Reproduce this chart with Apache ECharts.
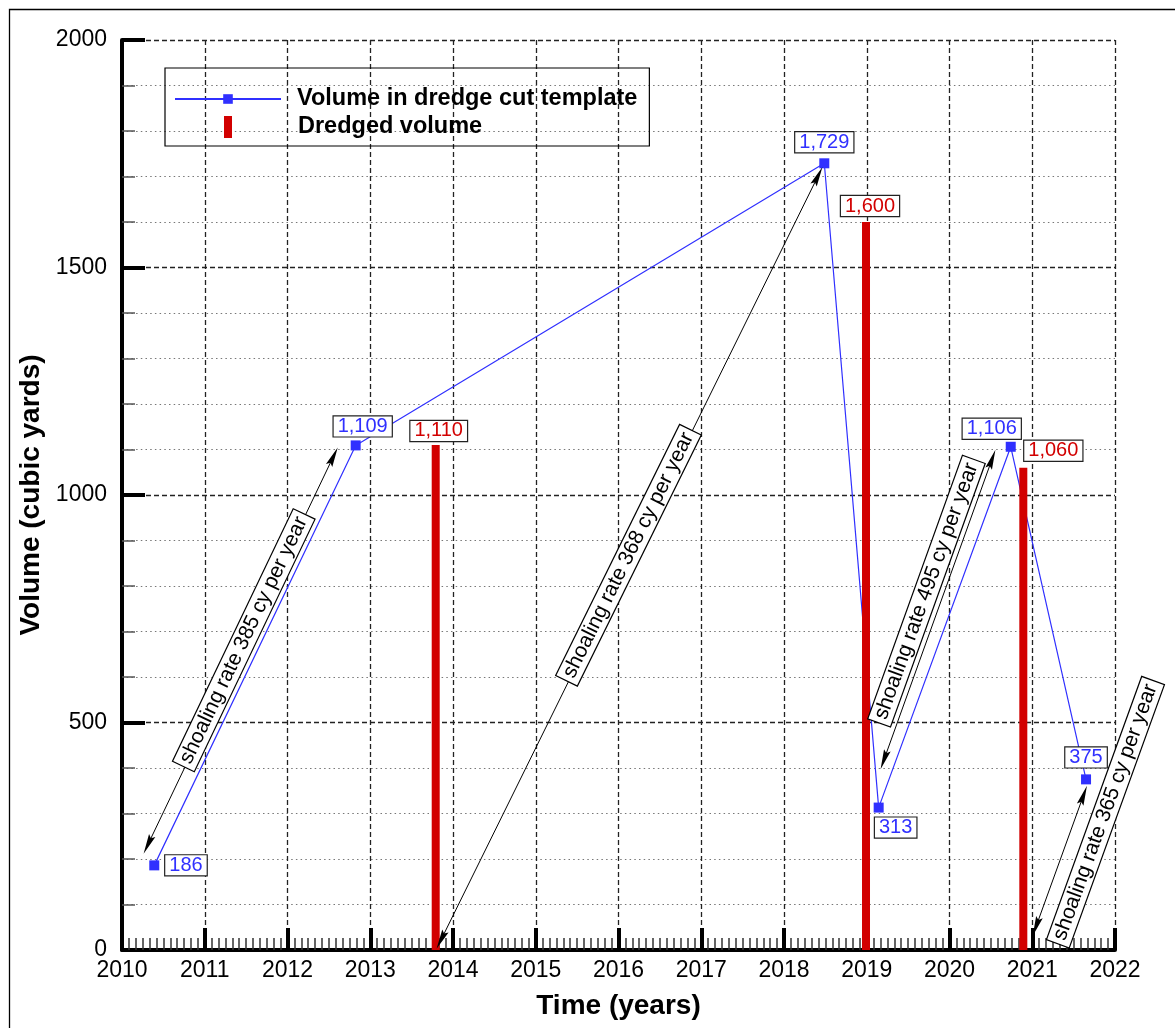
<!DOCTYPE html>
<html><head><meta charset="utf-8">
<script src="https://cdn.jsdelivr.net/npm/echarts@6/dist/echarts.min.js"></script>
<style>html,body{margin:0;padding:0;background:#fff}#c{width:1175px;height:1028px}</style>
</head><body><div id="c"></div>
<script>
// ---- data ----
const lineYears  = [2010.39, 2012.824, 2018.487, 2019.144, 2020.74, 2021.65];
const lineValues = [186, 1109, 1729, 313, 1106, 375];
const barYears   = [2013.791, 2018.991, 2020.892];
const barValues  = [1110, 1600, 1060];
const xRange = [2010, 2022];
const yRange = [0, 2000];
// annotation arrows (data space)
const arrowFrom = [[2010.313, 231.6], [2013.855, 22.2], [2019.208, 418], [2021.046, 51.6]];
const arrowTo   = [[2012.555, 1084.8], [2018.411, 1700.9], [2020.514, 1078.7], [2021.62, 340.2]];
const arrowText = ['shoaling rate 385 cy per year', 'shoaling rate 368 cy per year',
                   'shoaling rate 495 cy per year', 'shoaling rate 365 cy per year'];
const arrowTextAt = [[2011.466, 681.3], [2016.115, 868.1], [2019.716, 789], [2021.879, 303.3]];

// ---- label placement (styling) ----
const lineLabelPos = ['right', 'top', 'top', 'bottom', 'top', 'top'];
const lineLabelOffset = [[0, 0], [7, 0], [0, 0], [17, 0], [-19, 0], [0, 0]];
const lineLabelDist = [6, 4, 6, 5, 3, 7];
const barLabelOffset = [[3, 0], [4, 0], [30, 0]];
const barLabelDist = [4, 6, 7];

const FONT = 'Liberation Sans, Arial, sans-serif';
const BLUE = '#3030ff';
const RED = '#d20000';
const ARROW_HEAD = 'path://M3.5,0L7,20L3.5,17L0,20Z';
const fmt = v => Number(v).toLocaleString('en-US');
const boxLabel = {
  show: true, fontSize: 20, fontFamily: FONT, backgroundColor: '#fff',
  borderColor: '#222', borderWidth: 1.2, padding: [0, 4], lineHeight: 20
};

const lineData = lineYears.map((x, i) => ({
  value: [x, lineValues[i]],
  label: { position: lineLabelPos[i], offset: lineLabelOffset[i], distance: lineLabelDist[i] }
}));
const barData = barYears.map((x, i) => ({
  value: [x, barValues[i]],
  label: { offset: barLabelOffset[i], distance: barLabelDist[i] }
}));

const arrowLines = arrowFrom.map((f, i) => [{ coord: f }, { coord: arrowTo[i] }]);
const labelLines = arrowTextAt.map((c, i) => {
  const dx = (arrowTo[i][0] - arrowFrom[i][0]) * 0.03;
  const dy = (arrowTo[i][1] - arrowFrom[i][1]) * 0.03;
  return [
    { coord: [c[0] - dx, c[1] - dy], symbol: 'none',
      lineStyle: { color: 'rgba(0,0,0,0)', width: 0 },
      label: {
        show: true, position: 'middle', formatter: arrowText[i], distance: -12,
        fontSize: 21, fontFamily: FONT, color: '#000',
        backgroundColor: '#fff', borderColor: '#000', borderWidth: 1.2, padding: [1, 4]
      } },
    { coord: [c[0] + dx, c[1] + dy], symbol: 'none' }
  ];
});

const legendText = { fontSize: 23.5, fontWeight: 'bold', color: '#000', lineHeight: 24, fontFamily: FONT };

const chart = echarts.init(document.getElementById('c'), null, { renderer: 'canvas' });
chart.setOption({
  animation: false,
  backgroundColor: '#fff',
  textStyle: { fontFamily: FONT },
  grid: { left: 122, right: 60, top: 40, bottom: 78, containLabel: false, outerBoundsMode: 'none' },
  graphic: [{
    type: 'rect', left: 7, top: 7, silent: true,
    shape: { width: 1300, height: 1200 },
    style: { fill: null, stroke: '#000', lineWidth: 1.3 }
  }],
  legend: [{
    left: 165, top: 68, orient: 'vertical', selectedMode: false,
    borderColor: '#000', borderWidth: 1.2, padding: [19, 12, 35, 9],
    itemWidth: 106, itemHeight: 12,
    textStyle: Object.assign({ padding: [0, 0, 0, 11] }, legendText),
    data: [{ name: 'Volume in dredge cut template' }]
  }, {
    left: 224, top: 115, orient: 'vertical', selectedMode: false, padding: 0,
    itemWidth: 8, itemHeight: 22,
    textStyle: Object.assign({ padding: [0, 0, 0, 61] }, legendText),
    data: [{ name: 'Dredged volume', icon: 'rect' }]
  }],
  xAxis: {
    type: 'value', min: xRange[0], max: xRange[1], interval: 1,
    name: 'Time (years)', nameLocation: 'middle', nameGap: 42,
    nameTextStyle: { fontSize: 28, fontWeight: 'bold', color: '#000', fontFamily: FONT },
    axisLine: { show: true, onZero: false, lineStyle: { color: '#000', width: 4 } },
    axisTick: { show: true, inside: true, length: 22, lineStyle: { color: '#000', width: 4 } },
    minorTick: { show: true, splitNumber: 12, length: 12, lineStyle: { color: '#333', width: 1.5 } },
    axisLabel: { formatter: v => String(v), fontSize: 23, color: '#000', margin: 9, fontFamily: FONT },
    splitLine: { show: true, lineStyle: { color: '#222', width: 1.3, type: [5, 3] } },
    minorSplitLine: { show: false }
  },
  yAxis: {
    type: 'value', min: yRange[0], max: yRange[1], interval: 500,
    name: 'Volume (cubic yards)', nameLocation: 'middle', nameGap: 68,
    nameTextStyle: { fontSize: 28, fontWeight: 'bold', color: '#000', fontFamily: FONT },
    axisLine: { show: true, onZero: false, lineStyle: { color: '#000', width: 4 } },
    axisTick: { show: true, inside: true, length: 23, lineStyle: { color: '#000', width: 4 } },
    minorTick: { show: true, splitNumber: 5, length: 13, lineStyle: { color: '#555', width: 1.5 } },
    axisLabel: { formatter: v => String(v), fontSize: 23, color: '#000', margin: 15, fontFamily: FONT },
    splitLine: { show: true, lineStyle: { color: '#222', width: 1.3, type: [5, 3] } },
    minorSplitLine: { show: true, lineStyle: { color: '#777', width: 1, type: [1.5, 3.2] } }
  },
  series: [{
    type: 'line', name: 'Volume in dredge cut template', data: lineData,
    symbol: 'rect', symbolSize: 10, z: 2,
    lineStyle: { color: BLUE, width: 1.2 },
    itemStyle: { color: BLUE },
    label: Object.assign({}, boxLabel, { color: BLUE, formatter: p => fmt(p.value[1]) }),
    markLine: {
      silent: true, animation: false,
      symbol: [ARROW_HEAD, ARROW_HEAD], symbolSize: 20, symbolKeepAspect: true,
      lineStyle: { color: '#000', width: 1, type: 'solid' },
      itemStyle: { color: '#000' },
      label: { show: false },
      emphasis: { disabled: true },
      data: arrowLines.concat(labelLines)
    }
  }, {
    type: 'bar', name: 'Dredged volume', data: barData, barWidth: 8, z: 3,
    itemStyle: { color: RED },
    label: Object.assign({}, boxLabel, { position: 'top', color: RED, formatter: p => fmt(p.value[1]) })
  }]
});
</script></body></html>
